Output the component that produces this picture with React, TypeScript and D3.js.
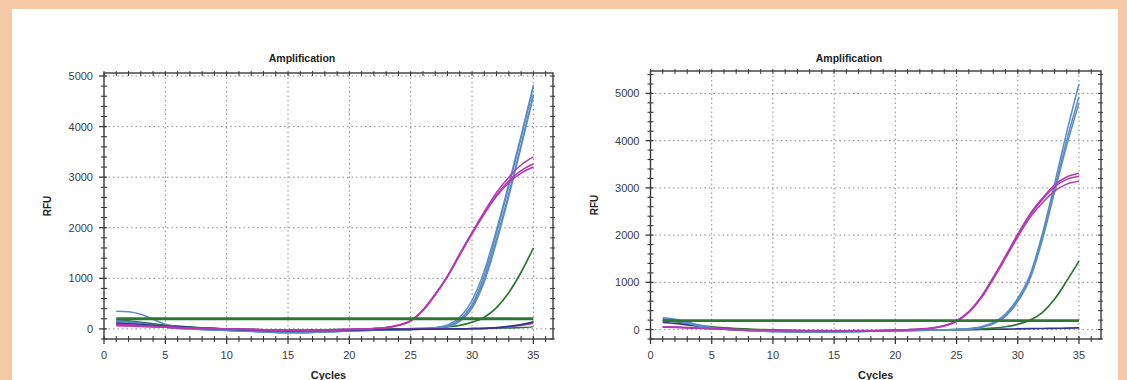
import React from "react";
import * as d3 from "d3";

// ---------- DATA ----------
const cycles = [1,2,3,4,5,6,7,8,9,10,11,12,13,14,15,16,17,18,19,20,21,22,23,24,25,26,27,28,29,30,31,32,33,34,35];

const xMajorTicks = [0,5,10,15,20,25,30,35];
const leftYTicks = [0,1000,2000,3000,4000,5000];
const rightYTicks = [0,1000,2000,3000,4000,5000];

// Left chart series
const leftBlue1 = [350,340,290,190,90,35,10,-5,-15,-25,-35,-45,-60,-70,-75,-75,-70,-60,-50,-40,-30,-25,-20,-15,-10,0,20,60,190,480,1060,1900,2820,3780,4780];
const leftBlue2 = [160,140,110,70,40,15,0,-10,-20,-30,-40,-50,-60,-70,-75,-75,-70,-60,-50,-40,-30,-25,-20,-15,-10,0,25,80,230,560,1150,1960,2870,3820,4820];
const leftBlue3 = [140,125,100,65,35,12,0,-10,-20,-28,-36,-45,-55,-62,-66,-66,-62,-55,-48,-40,-32,-26,-20,-15,-10,-2,15,55,170,440,980,1780,2680,3640,4640];
const leftBlue4 = [120,110,90,60,32,10,-2,-12,-22,-30,-38,-48,-58,-66,-70,-70,-66,-58,-50,-42,-34,-28,-22,-16,-10,-4,12,45,150,410,930,1720,2620,3600,4600];
const leftMag1 = [90,80,65,50,38,28,20,12,5,0,-5,-10,-15,-18,-20,-20,-20,-18,-15,-10,-2,10,30,75,170,380,690,1050,1490,1910,2320,2700,3000,3240,3400];
const leftMag2 = [80,72,60,46,35,25,18,10,4,-2,-6,-12,-16,-20,-22,-22,-20,-18,-15,-10,-3,8,27,70,160,370,680,1040,1470,1890,2290,2650,2930,3130,3260];
const leftMag3 = [70,64,54,42,32,22,15,8,2,-3,-8,-13,-17,-21,-23,-23,-21,-19,-16,-11,-4,6,24,66,155,360,670,1030,1460,1880,2270,2620,2890,3080,3200];
const leftGreenAmp = [150,130,105,80,60,42,28,15,5,-3,-10,-15,-20,-24,-26,-26,-24,-20,-16,-12,-8,-5,-2,0,5,12,22,40,70,130,230,420,720,1120,1600];
const leftNavy = [110,100,85,70,55,40,28,15,5,-5,-15,-22,-30,-35,-38,-38,-36,-32,-28,-24,-20,-16,-12,-10,-8,-6,-4,-2,0,5,12,25,50,85,140];
const leftMagLow = [60,55,48,40,32,24,16,8,2,-4,-8,-12,-15,-18,-20,-20,-18,-16,-14,-12,-10,-8,-6,-5,-4,-3,-2,0,2,5,10,20,40,70,110];
const leftTealLow = [180,160,130,100,75,55,38,24,12,2,-6,-12,-18,-22,-24,-24,-22,-20,-18,-15,-12,-10,-8,-6,-4,-2,0,2,4,6,8,12,18,26,40];
const leftThreshold = 200;

// Right chart series
const rightBlue1 = [250,220,160,90,40,10,-10,-20,-30,-40,-45,-50,-50,-50,-48,-45,-40,-35,-30,-25,-20,-15,-10,-5,0,20,60,150,330,660,1160,2020,3080,4180,5200];
const rightBlue2 = [230,200,145,80,35,8,-10,-22,-32,-40,-46,-50,-52,-52,-50,-46,-42,-37,-32,-26,-20,-15,-10,-5,0,15,50,130,300,620,1110,1950,2980,4010,4930];
const rightBlue3 = [210,185,135,75,30,5,-12,-24,-34,-42,-48,-52,-54,-54,-52,-48,-44,-38,-32,-26,-20,-15,-10,-6,-2,12,45,120,280,590,1070,1890,2900,3900,4790];
const rightMag1 = [60,52,42,30,20,10,2,-5,-10,-15,-20,-24,-26,-28,-28,-28,-26,-24,-20,-12,-2,12,35,85,190,380,690,1110,1560,2020,2450,2780,3060,3230,3310];
const rightMag2 = [55,48,38,27,18,8,0,-6,-12,-17,-22,-25,-27,-29,-29,-29,-27,-25,-21,-13,-3,10,32,80,180,370,675,1090,1540,2000,2420,2750,3020,3180,3240];
const rightMag3 = [50,44,35,25,16,6,-2,-8,-13,-18,-23,-26,-28,-30,-30,-30,-28,-26,-22,-14,-4,8,29,75,170,360,660,1070,1510,1960,2370,2680,2930,3080,3140];
const rightGreenAmp = [200,170,130,90,60,38,22,10,0,-8,-14,-18,-22,-24,-25,-25,-24,-22,-20,-17,-14,-11,-8,-5,-2,2,10,30,60,110,200,360,640,1030,1450];
const rightNavy = [150,130,100,70,45,25,10,-2,-12,-20,-26,-30,-34,-36,-36,-35,-33,-30,-27,-24,-20,-16,-12,-8,-4,0,3,6,10,14,18,22,26,30,34];
const rightThreshold = 190;

// ---------- STYLE ----------
const BLUE = "#5a8dc4";
const MAG = "#b23bb2";
const GREEN = "#2f7533";
const NAVY = "#34348c";
const FONT = "'Liberation Sans', Arial, sans-serif";

type Series = { values: number[]; color: string; width?: number };

type ChartProps = {
  left: number; right: number; top: number; bottom: number;
  xMax: number; yMin: number; yMax: number;
  yTicks: number[];
  series: Series[];
  threshold: number;
  titleX: number;
};

function Chart(p: ChartProps) {
  const x = d3.scaleLinear().domain([0, p.xMax]).range([p.left, p.right]);
  const y = d3.scaleLinear().domain([p.yMin, p.yMax]).range([p.bottom, p.top]);
  const line = d3.line<number>()
    .x((_, i) => x(cycles[i]))
    .y((v) => y(v))
    .curve(d3.curveMonotoneX);

  const xMinor = d3.range(0, Math.floor(p.xMax) + 1, 1);
  const yMinor = d3.range(Math.ceil(p.yMin / 200) * 200, p.yMax + 1, 200);
  const axisColor = "#3a3a3a";
  const cx = (p.left + p.right) / 2;
  const cy = (p.top + p.bottom) / 2;

  return (
    <g>
      {/* grid */}
      {xMajorTicks.filter((t) => t > 0).map((t) => (
        <line key={"gx" + t} x1={x(t)} x2={x(t)} y1={p.top} y2={p.bottom}
          stroke="#8a8a8a" strokeWidth={1} strokeDasharray="1.5,3" />
      ))}
      {p.yTicks.map((t) => (
        <line key={"gy" + t} x1={p.left} x2={p.right} y1={y(t)} y2={y(t)}
          stroke="#8a8a8a" strokeWidth={1} strokeDasharray="1.5,3" />
      ))}

      {/* series */}
      {p.series.map((s, i) => (
        <path key={"s" + i} d={line(s.values) || ""} fill="none"
          stroke={s.color} strokeWidth={s.width ?? 1.5} />
      ))}
      {/* threshold */}
      <line x1={x(cycles[0])} x2={x(cycles[cycles.length - 1])}
        y1={y(p.threshold)} y2={y(p.threshold)} stroke={GREEN} strokeWidth={2.8} />

      {/* frame */}
      <rect x={p.left} y={p.top} width={p.right - p.left} height={p.bottom - p.top}
        fill="none" stroke={axisColor} strokeWidth={1.4} />

      {/* x ticks bottom & top */}
      {xMinor.map((t) => {
        const major = t % 5 === 0;
        return (
          <g key={"xt" + t}>
            <line x1={x(t)} x2={x(t)} y1={p.bottom - 3} y2={p.bottom + (major ? 5 : 3)}
              stroke={axisColor} strokeWidth={major ? 1.3 : 1.1} />
            <line x1={x(t)} x2={x(t)} y1={p.top - 2} y2={p.top + 3}
              stroke={axisColor} strokeWidth={1} />
          </g>
        );
      })}
      {/* y ticks left & right */}
      {yMinor.map((t) => {
        const major = t % 1000 === 0;
        return (
          <g key={"yt" + t}>
            <line x1={p.left - (major ? 5 : 3)} x2={p.left + 3} y1={y(t)} y2={y(t)}
              stroke={axisColor} strokeWidth={major ? 1.3 : 1.1} />
            <line x1={p.right - 3} x2={p.right + 2} y1={y(t)} y2={y(t)}
              stroke={axisColor} strokeWidth={1} />
          </g>
        );
      })}

      {/* tick labels */}
      {xMajorTicks.map((t) => (
        <text key={"xl" + t} x={x(t)} y={359} textAnchor="middle"
          fontFamily={FONT} fontSize={11} fill="#3c3c3c">{t}</text>
      ))}
      {p.yTicks.map((t) => (
        <text key={"yl" + t} x={p.left - 11} y={y(t) + 4} textAnchor="end"
          fontFamily={FONT} fontSize={11} fill="#3c3c3c">{t}</text>
      ))}

      {/* titles */}
      <text x={p.titleX} y={62} textAnchor="middle" fontFamily={FONT}
        fontSize={10.5} fontWeight="bold" fill="#222">Amplification</text>
      <text x={cx} y={379} textAnchor="middle" fontFamily={FONT}
        fontSize={11} fontWeight="bold" fill="#222">Cycles</text>
      <text transform={`translate(${p.left - 53},${cy}) rotate(-90)`} textAnchor="middle"
        fontFamily={FONT} fontSize={10} fontWeight="bold" fill="#222">RFU</text>
    </g>
  );
}

export default function App() {
  const leftSeries: Series[] = [
    { values: leftTealLow, color: "#2d6a55" },
    { values: leftGreenAmp, color: GREEN, width: 1.7 },
    { values: leftBlue1, color: BLUE },
    { values: leftBlue2, color: BLUE },
    { values: leftBlue3, color: BLUE },
    { values: leftBlue4, color: BLUE },
    { values: leftMagLow, color: MAG },
    { values: leftNavy, color: NAVY, width: 1.7 },
    { values: leftMag1, color: MAG },
    { values: leftMag2, color: MAG },
    { values: leftMag3, color: MAG },
  ];
  const rightSeries: Series[] = [
    { values: rightNavy, color: NAVY, width: 1.7 },
    { values: rightGreenAmp, color: GREEN, width: 1.7 },
    { values: rightBlue1, color: BLUE },
    { values: rightBlue2, color: BLUE },
    { values: rightBlue3, color: BLUE },
    { values: rightMag1, color: MAG },
    { values: rightMag2, color: MAG },
    { values: rightMag3, color: MAG },
  ];
  return (
    <svg width={1127} height={380} style={{ position: "absolute", left: 0, top: 0 }}>
      <rect x={0} y={0} width={1127} height={380} fill="#f6c9a6" />
      <rect x={12} y={9} width={1106} height={371} fill="#ffffff" />
      <Chart left={104} right={553} top={73} bottom={339} xMax={36.6}
        yMin={-200} yMax={5060} yTicks={leftYTicks} series={leftSeries}
        threshold={leftThreshold} titleX={302} />
      <Chart left={650.5} right={1101} top={71} bottom={339} xMax={36.8}
        yMin={-200} yMax={5475} yTicks={rightYTicks} series={rightSeries}
        threshold={rightThreshold} titleX={849} />
    </svg>
  );
}
